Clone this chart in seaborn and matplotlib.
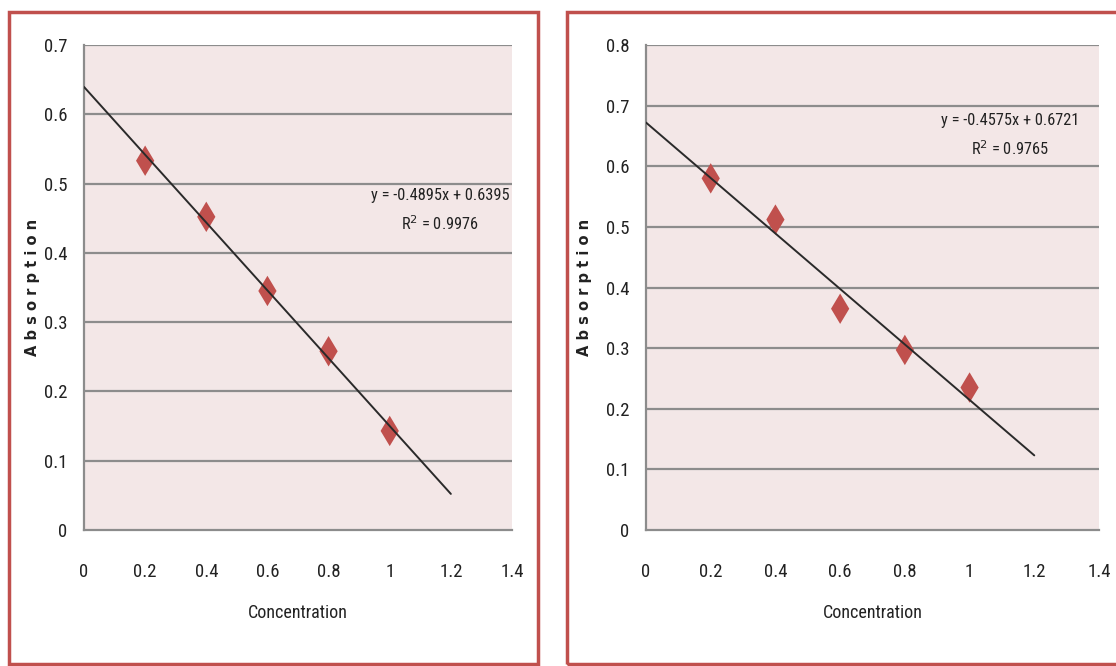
import numpy as np
import pandas as pd
import matplotlib
matplotlib.use("Agg")
import matplotlib.pyplot as plt
import seaborn as sns
from matplotlib.patches import Rectangle
from matplotlib import font_manager

# ---- data ----
conc = [0.2, 0.4, 0.6, 0.8, 1.0]
abs_left = [0.533, 0.452, 0.345, 0.258, 0.143]
abs_right = [0.580, 0.512, 0.365, 0.297, 0.235]
slope_left, intercept_left, r2_left = -0.4895, 0.6395, 0.9976
slope_right, intercept_right, r2_right = -0.4575, 0.6721, 0.9765
trend_x = [0.0, 1.2]
xticks = [0, 0.2, 0.4, 0.6, 0.8, 1, 1.2, 1.4]
xtick_labels = ["0", "0.2", "0.4", "0.6", "0.8", "1", "1.2", "1.4"]
yticks_left = [0, 0.1, 0.2, 0.3, 0.4, 0.5, 0.6, 0.7]
yticks_right = [0, 0.1, 0.2, 0.3, 0.4, 0.5, 0.6, 0.7, 0.8]

sns.set_theme(style="white")
names = {f.name for f in font_manager.fontManager.ttflist}
cands = [n for n in ["Liberation Sans Narrow", "Roboto Condensed", "Open Sans Condensed",
                     "Liberation Sans"] if n in names]
main_font = cands[0] if cands else "DejaVu Sans"
plt.rcParams['font.family'] = [main_font, 'DejaVu Sans']

RED = "#C0504D"
GRID = "#8C8C8C"
BG = "#F3E7E7"
TXT = "#222222"

fig = plt.figure(figsize=(11.16, 6.66), dpi=100)
fig.patch.set_facecolor("white")

# frames
fig.add_artist(Rectangle((9 / 1116, 1 - 664 / 666), (538 - 9) / 1116, (664 - 12) / 666,
                         transform=fig.transFigure, fill=False, edgecolor=RED, lw=2.5))
fig.add_artist(Rectangle((567 / 1116, 1 - 664 / 666), 0.6, (664 - 12) / 666,
                         transform=fig.transFigure, fill=False, edgecolor=RED, lw=2.5))

H = 1 - 530 / 666
HT = (530 - 45) / 666
ax1 = fig.add_axes([84 / 1116, H, (512 - 84) / 1116, HT])
ax2 = fig.add_axes([646 / 1116, H, (1099 - 646) / 1116, HT])


def panel(ax, y, slope, intercept, r2, yticks, ymax, eqx, eqy, wpx, ylab_x):
    ax.set_facecolor(BG)
    ax.set_xlim(0, 1.4)
    ax.set_ylim(0, ymax)
    for t in yticks[1:]:
        ax.axhline(t, color=GRID, lw=1.6, zorder=1)
    df = pd.DataFrame({"Concentration": conc, "Absorption": y})
    sns.scatterplot(data=df, x="Concentration", y="Absorption", ax=ax, marker="d",
                    s=240, color=RED, edgecolor="none", zorder=3, clip_on=False)
    tdf = pd.DataFrame({"x": trend_x,
                        "y": [slope * v + intercept for v in trend_x]})
    sns.lineplot(data=tdf, x="x", y="y", ax=ax, color="#2a2a2a", lw=1.4, zorder=4)
    ax.set_xticks(xticks)
    ax.set_xticklabels(xtick_labels)
    ax.set_yticks(yticks)
    ax.set_yticklabels([f"{t:g}" for t in yticks])
    ax.tick_params(axis="both", direction="out", length=7, width=1.2, color=GRID,
                   labelsize=13.5, labelcolor=TXT)
    ax.tick_params(axis="x", pad=17)
    ax.tick_params(axis="y", pad=5)
    for s in ["top", "right"]:
        ax.spines[s].set_visible(False)
    for s in ["left", "bottom"]:
        ax.spines[s].set_color(GRID)
        ax.spines[s].set_linewidth(1.6)
    ax.set_xlabel("Concentration", fontsize=13, color=TXT)
    ax.xaxis.set_label_coords(0.5, -74 / 485)
    ax.set_ylabel("A b s o r p t i o n", fontsize=10.5, fontweight="bold",
                  family="DejaVu Sans", color=TXT)
    ax.yaxis.set_label_coords(ylab_x / wpx, 0.5)
    ax.text(eqx, eqy, f"y = {slope}x + {intercept}\nR$^2$ = {r2}", transform=ax.transAxes,
            ha="center", va="top", fontsize=11.8, color=TXT, linespacing=1.7,
            multialignment="center")


panel(ax1, abs_left, slope_left, intercept_left, r2_left, yticks_left, 0.7,
      (440 - 84) / (512 - 84), (530 - 188) / 485, 428, -44)
panel(ax2, abs_right, slope_right, intercept_right, r2_right, yticks_right, 0.8,
      (1010 - 646) / (1099 - 646), (530 - 113) / 485, 453, -54)

fig.savefig("out.png", dpi=100)
